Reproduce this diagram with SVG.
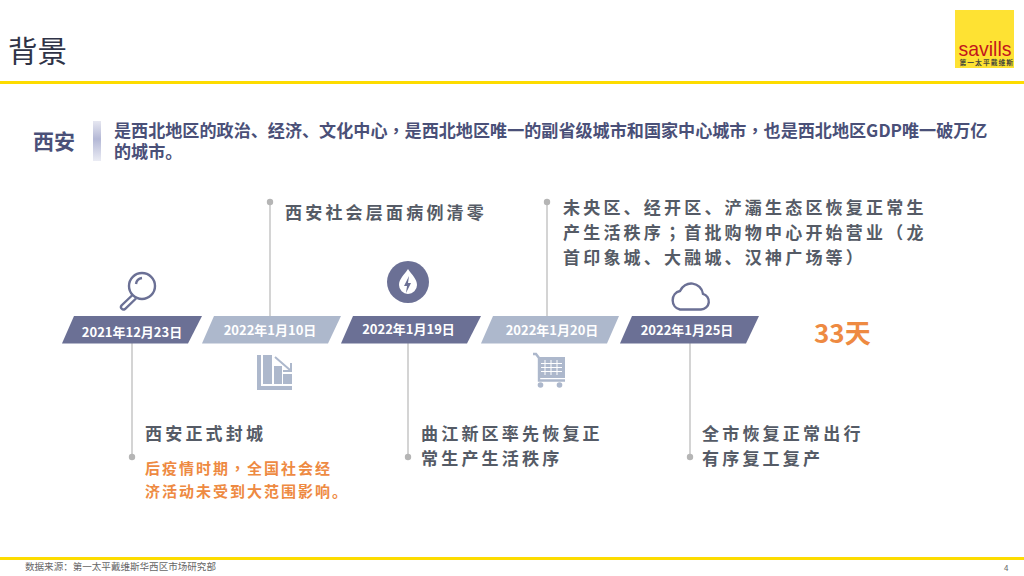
<svg xmlns="http://www.w3.org/2000/svg" width="1024" height="576" viewBox="0 0 1024 576">
<style>
text{font-family:"Noto Sans CJK SC","Noto Sans",sans-serif;text-spacing-trim:space-all}
.p{font-family:"Noto Sans CJK TC","Noto Sans",sans-serif}
.hd{font-size:17.100px;font-weight:700;fill:#4a5078}
.date{font-size:13px;font-weight:700;fill:#fff;text-anchor:middle}
.body{font-size:17px;font-weight:700;fill:#555b66;letter-spacing:3.2px}
.or{font-size:15px;font-weight:700;fill:#ee8a42;letter-spacing:2px}
.dk{fill:#6b7095}.lt{fill:#adb8cc}
.ln{stroke:#bdbdbd;stroke-width:1.3;fill:none}
.dot{fill:#b5b5b5}
.ico{fill:none;stroke:#6b7095;stroke-width:2.4}
</style>
<defs><linearGradient id="bar" x1="0" y1="0" x2="0" y2="1"><stop offset="0" stop-color="#e6e7f1"/><stop offset=".45" stop-color="#b4b8d6"/><stop offset="1" stop-color="#ebecf4"/></linearGradient></defs>
<g id="header">
<text x="8" y="62" font-size="29.500" fill="#2f3347">背景</text>
<rect x="0" y="81" width="1024" height="3" fill="#fddc00"/>
<rect x="955" y="10" width="59" height="58" fill="#fee233"/>
<text font-size="21" fill="#c3161c"><tspan x="958.500" y="56" style="font-family:'Liberation Sans',sans-serif" textLength="53" lengthAdjust="spacingAndGlyphs">savills</tspan><tspan x="959.500" y="65" font-size="6.800" font-weight="700" fill="#4a4a3a" letter-spacing="1">第一太平戴维斯</tspan></text>
</g>
<g id="intro">
<text x="33" y="149" font-size="21" font-weight="700" fill="#4a5078">西安</text>
<rect x="93" y="121" width="8" height="40" fill="url(#bar)"/>
<text class="hd"><tspan x="114" y="137">是西北地区的政治、经济、文化中心</tspan><tspan class="p">，</tspan><tspan>是西北地区唯一的副省级城市和国家中心城市</tspan><tspan class="p">，</tspan><tspan>也是西北地区GDP唯一破万亿</tspan><tspan x="114" y="158">的城市。</tspan></text>
</g>
<g id="connectors">
<path class="ln" d="M132 343V457M270 202V316M408 343V457M547 202V316M690 343V457"/>
<circle class="dot" cx="132" cy="457" r="3.200"/><circle class="dot" cx="270" cy="202" r="3.200"/><circle class="dot" cx="408" cy="457" r="3.200"/><circle class="dot" cx="547" cy="202" r="3.200"/><circle class="dot" cx="690" cy="457" r="3.200"/>
</g>
<g id="node-1">
<polygon class="dk" points="74,316 202,316 188,343.500 62,343.500"/>
<text class="date" x="132" y="337">2021年12月23日</text>
<circle class="ico" cx="142" cy="286" r="13"/><path class="ico" d="M136 284a7 7 0 0 1 6-6" stroke-width="1.600"/><path class="ico" d="M132.500 295l-11 10.500a2.500 2.500 0 0 0 3.500 3.500l11-10.500"/>
<text class="body" x="145" y="440">西安正式封城</text>
<text class="or" x="145" y="474">后疫情时期<tspan class="p">，</tspan>全国社会经</text>
<text class="or" x="145" y="497">济活动未受到大范围影响。</text>
</g>
<g id="node-2">
<polygon class="lt" points="214,316 341,316 328,343.500 202,343.500"/>
<text class="date" x="270" y="335">2022年1月10日</text>
<path class="lt" d="M257 355h4v31h31v4h-35zM263 355h9v29h-9zM274 366h8v18h-8zM283 374h9v10h-9z"/>
<path d="M275 357l15 13M291 363v8h-8" fill="none" stroke="#adb8cc" stroke-width="2"/>
<text class="body" x="285" y="219">西安社会层面病例清零</text>
</g>
<g id="node-3">
<polygon class="dk" points="353,316 481,316 467,343.500 341,343.500"/>
<text class="date" x="408.500" y="334">2022年1月19日</text>
<circle class="dk" cx="408" cy="282" r="21"/>
<path d="M408 269c4 6 9 10 9 16a9 9 0 0 1-18 0c0-6 5-10 9-16z" fill="#fff"/>
<path class="dk" d="M409 276l-5 10h3l-1 7 5-10h-3z"/>
<text class="body" x="421" y="440">曲江新区率先恢复正</text>
<text class="body" x="421" y="465">常生产生活秩序</text>
</g>
<g id="node-4">
<polygon class="lt" points="493,316 619,316 607,343.500 481,343.500"/>
<text class="date" x="552" y="335">2022年1月20日</text>
<path d="M533 354h3l3 4v22.500h26" fill="none" stroke="#adb8cc" stroke-width="2.400"/>
<path d="M538 357h27v21h-27z" fill="#adb8cc"/>
<path d="M545 360v15M551 360v15M557 360v15M541 363.500h21M541 367.500h21M541 371.500h21" stroke="#fff" stroke-width="1"/>
<circle class="lt" cx="540.500" cy="385" r="2.800"/><circle class="lt" cx="559.500" cy="385" r="2.800"/>
<text class="body" x="563" y="214">未央区、经开区、浐灞生态区恢复正常生</text>
<text class="body" x="563" y="239">产生活秩序<tspan class="p">；</tspan>首批购物中心开始营业（龙</text>
<text class="body" x="563" y="264">首印象城、大融城、汉神广场等）</text>
</g>
<g id="node-5">
<polygon class="dk" points="632,316 759,316 746,343.500 620,343.500"/>
<text class="date" x="687" y="335">2022年1月25日</text>
<path class="ico" d="M680 309.500H701A8 8 0 0 0 703 293.800A12 12 0 0 0 680 291A9.500 9.500 0 0 0 680 309.500Z" stroke-width="2"/>
<text class="body" x="702" y="440">全市恢复正常出行</text>
<text class="body" x="702" y="465">有序复工复产</text>
</g>
<g id="result"><text x="814" y="343" font-size="26" font-weight="700" fill="#ee8a42">33天</text></g>
<g id="footer">
<rect x="0" y="557" width="1024" height="3" fill="#fddc00"/>
<text x="25" y="570" font-size="9.550" fill="#666">数据来源：第一太平戴维斯华西区市场研究部</text>
<text x="1004" y="571" font-size="8" fill="#666">4</text>
</g>
</svg>
